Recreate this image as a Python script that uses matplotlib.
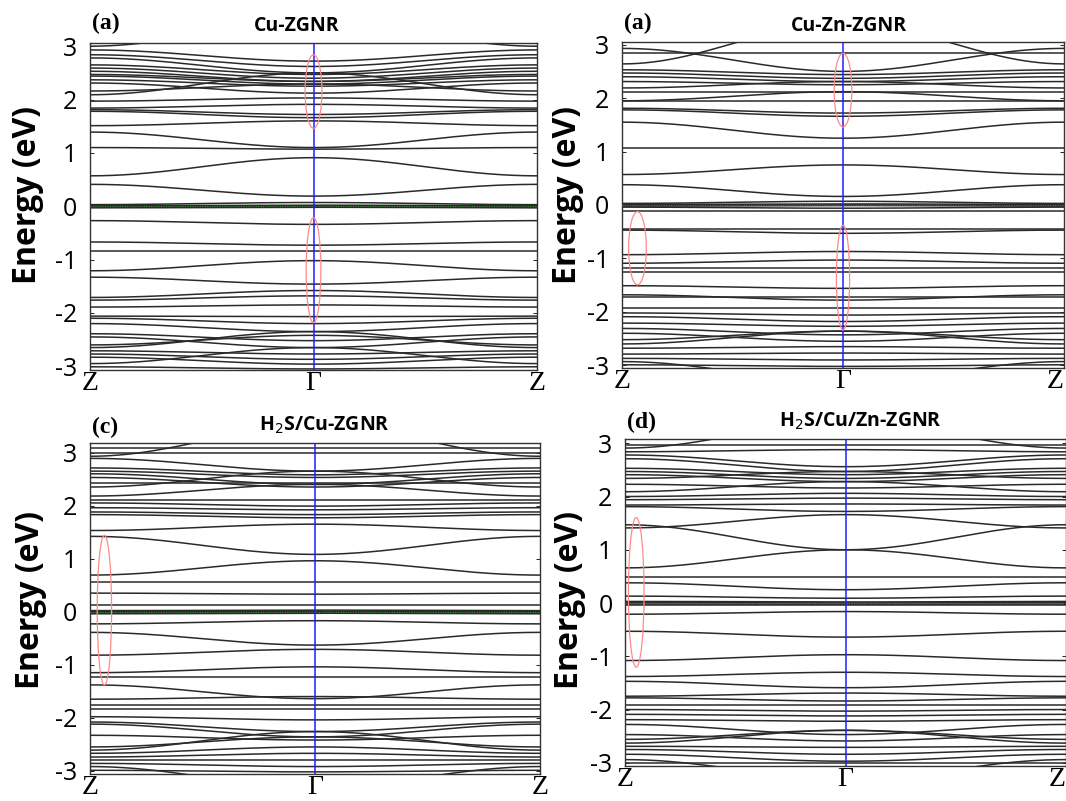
import numpy as np
import matplotlib
matplotlib.use("Agg")
import matplotlib.pyplot as plt
from matplotlib.patches import Ellipse

# band energies (eV) at the zone edge Z and at Gamma, one entry per band
cu_z = [3.00, 2.93, 2.84, 2.78, 2.65, 2.59, 2.53, 2.47, 2.44, 2.37, 2.31, 2.16, 2.09,
        1.97, 1.84, 1.81, 1.78, 1.51, 1.39, 1.10, 0.57, 0.41, 0.03, 0.01, -0.01, -0.03,
        -0.27, -0.67, -0.83, -1.21, -1.33, -1.71, -1.76, -1.89, -2.06, -2.10, -2.20,
        -2.39, -2.45, -2.60, -2.65, -2.71, -2.77, -2.83, -2.95, -3.01]
cu_g = [3.45, 2.72, 2.62, 2.50, 2.47, 2.40, 2.34, 2.34, 2.29, 2.25, 2.12, 2.29, 2.50,
        2.03, 1.91, 1.72, 1.66, 1.60, 1.10, 1.07, 0.91, 0.19, 0.07, 0.02, 0.0, -0.02,
        -0.34, -0.73, -0.83, -1.02, -1.46, -1.58, -1.68, -1.85, -2.07, -2.20, -2.35,
        -2.52, -2.65, -2.42, -2.35, -2.77, -2.87, -2.96, -2.65, -3.05]

cuzn_z = [2.93, 2.64, 2.84, 2.53, 2.47, 2.40, 2.31, 2.19, 2.12, 1.95, 1.95, 1.81, 1.78,
          1.55, 1.07, 0.57, 0.38, 0.03, 0.01, -0.01, -0.02,
          -0.04, -0.12, -0.44, -0.47, -0.93, -1.09, -1.18, -1.25, -1.51, -1.68, -1.73,
          -1.93, -2.02, -2.09, -2.21, -2.31, -2.40, -2.52, -2.60, -2.68, -2.79, -2.87,
          -2.93, -2.99]
cuzn_g = [2.50, 3.40, 2.84, 2.44, 2.37, 2.31, 2.25, 2.31, 2.12, 2.12, 1.95, 1.72, 1.66,
          1.25, 1.07, 0.75, 0.16, 0.07, 0.02, 0.0, -0.01,
          -0.06, -0.12, -0.44, -0.53, -0.87, -1.03, -1.18, -1.25, -1.56, -1.78, -1.73,
          -1.93, -2.06, -2.18, -2.27, -2.43, -2.55, -2.36, -2.36, -2.65, -2.77, -2.90,
          -3.30, -3.02]

h2s_cu_z = [3.09, 2.93, 2.99, 2.89, 2.71, 2.65, 2.60, 2.53, 2.43, 2.35, 2.18, 2.11,
            2.05, 1.96, 1.88, 1.83, 1.53, 1.42, 0.69, 0.56, 0.35, 0.13, 0.02, 0.0, -0.02,
            -0.04, -0.23, -0.39, -0.82, -1.15, -1.24, -1.38, -1.65, -1.76, -1.84, -1.98,
            -2.08, -2.12, -2.33, -2.55, -2.61, -2.67, -2.74, -2.80, -2.86, -2.92, -2.99]
h2s_cu_g = [3.09, 3.50, 2.99, 2.65, 2.58, 2.53, 2.40, 2.35, 2.43, 2.65, 2.40, 2.11,
            1.99, 1.92, 1.83, 1.77, 1.65, 1.08, 0.96, 0.56, 0.33, 0.13, 0.03, 0.01, -0.01,
            -0.03, -0.17, -0.63, -0.71, -1.04, -1.24, -1.64, -1.60, -1.76, -1.84, -2.04,
            -2.26, -2.36, -2.42, -2.36, -2.26, -2.55, -2.67, -2.80, -2.92, -3.30, -3.02]

h2s_cuzn_z = [2.97, 2.91, 2.84, 2.78, 2.71, 2.53, 2.47, 2.41, 2.34, 2.23, 2.09, 2.00,
              1.94, 1.84, 1.81, 1.41, 1.47, 0.66, 0.48, 0.38, 0.13, 0.03, 0.01, -0.01,
              -0.03, -0.21, -0.53, -1.08, -1.38, -1.47, -1.75, -1.78, -1.91, -2.00, -2.09,
              -2.19, -2.28, -2.47, -2.56, -2.63, -2.69, -2.75, -2.84, -2.94, -3.00]
h2s_cuzn_g = [2.97, 3.40, 2.88, 2.56, 2.47, 2.41, 2.34, 2.28, 2.47, 2.16, 2.28, 2.06,
              1.97, 1.86, 1.72, 1.66, 1.00, 1.00, 0.48, 0.25, 0.09, 0.02, 0.0, -0.01,
              -0.03, -0.16, -0.64, -0.97, -1.30, -1.59, -1.69, -1.84, -1.91, -2.03, -2.12,
              -2.22, -2.47, -2.59, -2.39, -2.39, -2.71, -2.84, -2.97, -3.30, -3.00]

panel_tags = ["(a)", "(a)", "(c)", "(d)"]
panel_titles = ["Cu-ZGNR", "Cu-Zn-ZGNR", r"H$_2$S/Cu-ZGNR", r"H$_2$S/Cu/Zn-ZGNR"]
k_labels = ["Z", "\u0393", "Z"]
e_ticks = [-3, -2, -1, 0, 1, 2, 3]

# marked regions: (k centre, E centre, width in k, height in eV)
marks = [
    [(1.0, 2.15, 0.075, 1.38), (1.0, -1.2, 0.066, 1.97)],
    [(1.0, 2.15, 0.08, 1.38), (1.0, -1.36, 0.06, 1.96), (0.07, -0.81, 0.08, 1.37)],
    [(0.064, 0.03, 0.064, 2.82)],
    [(0.051, 0.2, 0.071, 2.81)],
]

W, H = 1066, 801
# axes boxes in pixels: left, right, top, bottom
boxes = [(90, 537, 43, 370), (622, 1064, 42, 368), (90, 540, 443, 774), (625, 1066, 439, 766)]
ylims = [(-3.07, 3.06), (-3.05, 3.05), (-3.06, 3.18), (-3.06, 3.08)]
bands = [(cu_z, cu_g), (cuzn_z, cuzn_g), (h2s_cu_z, h2s_cu_g), (h2s_cuzn_z, h2s_cuzn_g)]
# text anchors in pixels
title_xy = [(297, 26), (849, 26), (324, 425), (860, 421)]
tag_xy = [(92, 23), (624, 23), (92, 427), (627, 422)]
ylab_xy = [(28, 195), (568, 195), (31, 600), (570, 600)]

sans = "Open Sans"
serif = "Liberation Serif"

fig = plt.figure(figsize=(W / 100, H / 100), dpi=100)
k = np.linspace(0, 2, 401)
shape = (1 - np.cos(np.pi * k)) / 2

for i in range(4):
    l, r, t, b = boxes[i]
    ax = fig.add_axes([l / W, 1 - b / H, (r - l) / W, (b - t) / H])
    ez, eg = bands[i]
    for e0, e1 in zip(ez, eg):
        ax.plot(k, e0 + (e1 - e0) * shape, color="#2a2a2a", lw=1.1)
    ax.axhline(0, color="#3a9a3a", lw=0.7, ls=(0, (1, 1.5)), zorder=3)
    ax.axvline(1, color="#1f1fff", lw=1.1, zorder=4)
    for xc, yc, w, h in marks[i]:
        ax.add_patch(Ellipse((xc, yc), w, h, fill=False, ec="#ff8a8a", lw=0.9, zorder=5))
    ax.set_xlim(0, 2)
    ax.set_ylim(*ylims[i])
    ax.set_yticks(e_ticks)
    ax.set_yticklabels([str(v) for v in e_ticks], fontsize=18, family=sans)
    ax.set_xticks([0, 1, 2])
    ax.set_xticklabels(k_labels, fontsize=20, family=serif)
    ax.tick_params(axis="y", direction="in", length=3, width=0.6, pad=9, right=True)
    ax.tick_params(axis="x", length=0, pad=1)
    # right-hand panels sit against the figure edge
    if r >= W - 4:
        ax.get_xticklabels()[-1].set_ha("right")
    for s in ax.spines.values():
        s.set_linewidth(1.0)
        s.set_color("#333333")

    tx, ty = title_xy[i]
    fig.text(tx / W, 1 - ty / H, panel_titles[i], ha="center", va="center",
             fontsize=14, fontweight="bold", family=sans)
    gx, gy = tag_xy[i]
    fig.text(gx / W, 1 - gy / H, panel_tags[i], ha="left", va="center",
             fontsize=17, fontweight="bold", family=serif)
    lx, ly = ylab_xy[i]
    fig.text(lx / W, 1 - ly / H, "Energy (eV)", rotation=90, ha="center", va="center",
             fontsize=23, fontweight="bold", family=sans)

fig.savefig("out.png", dpi=100, facecolor="white")
